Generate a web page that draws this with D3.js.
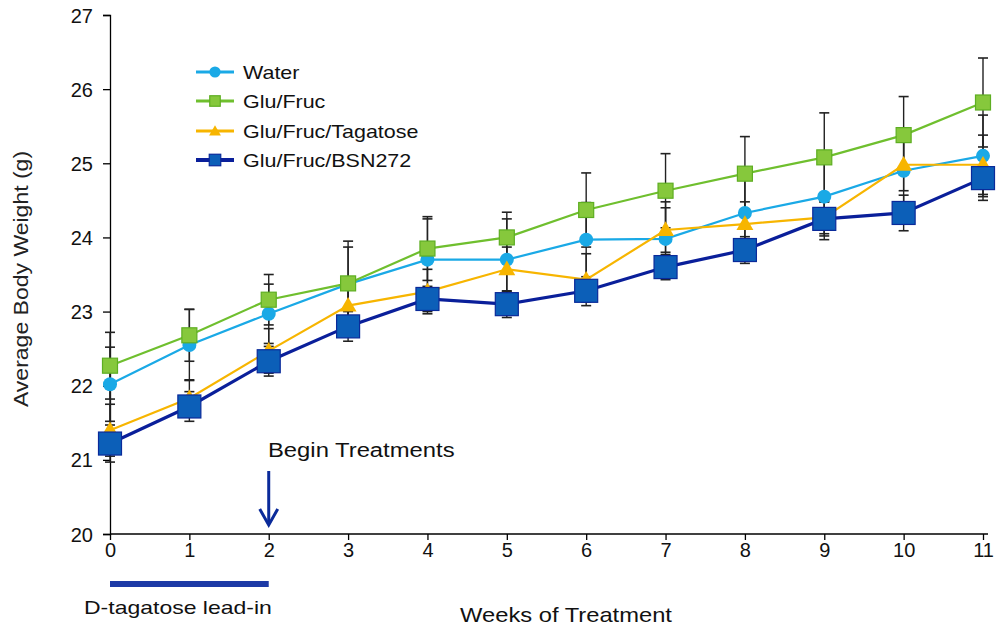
<!DOCTYPE html>
<html><head><meta charset="utf-8">
<script src="https://cdn.jsdelivr.net/npm/d3@7"></script>
<style>body{margin:0;background:#fff}svg{display:block}text{font-family:"Liberation Sans",Arial,sans-serif}</style>
</head><body><svg id="c" width="1000" height="628"></svg>
<script>
const weeks = [0,1,2,3,4,5,6,7,8,9,10,11];
const seriesNames = ["Water","Glu/Fruc","Glu/Fruc/Tagatose","Glu/Fruc/BSN272"];
const water    = [22.02,22.55,22.97,23.37,23.70,23.70,23.97,23.98,24.33,24.55,24.90,25.10];
const gluFruc  = [22.27,22.68,23.16,23.38,23.85,24.00,24.37,24.63,24.86,25.08,25.38,25.82];
const tagatose = [21.40,21.83,22.47,23.08,23.27,23.57,23.43,24.10,24.18,24.27,24.98,24.98];
const bsn272   = [21.22,21.72,22.33,22.80,23.17,23.10,23.28,23.60,23.83,24.25,24.33,24.80];
const waterErr    = [0.50,0.48,0.40,0.50,0.55,0.55,0.50,0.50,0.50,0.50,0.50,0.55];
const gluFrucErr  = [0.45,0.35,0.34,0.57,0.43,0.34,0.50,0.50,0.50,0.60,0.52,0.60];
const tagatoseErr = [0.35,0.25,0.30,0.35,0.30,0.30,0.35,0.30,0.30,0.30,0.35,0.40];
const bsn272Err   = [0.25,0.20,0.20,0.20,0.17,0.18,0.15,0.17,0.18,0.23,0.24,0.30];
const yTicks = [20,21,22,23,24,25,26,27];

const svg = d3.select("#c");
const x = d3.scaleLinear().domain([0,11]).range([110,983]);
const y = d3.scaleLinear().domain([20,27]).range([534,15]);

function stretch(sel, f){
  sel.each(function(){
    const w = this.getComputedTextLength();
    d3.select(this).attr("textLength", w*f).attr("lengthAdjust","spacingAndGlyphs");
  });
  return sel;
}

const series = [
  {name:seriesNames[0], v:water, e:waterErr, color:"#1aa9e6", fill:"#1aa9e6", stroke:"#1aa9e6", shape:"circle", size:7, lw:2.2},
  {name:seriesNames[1], v:gluFruc, e:gluFrucErr, color:"#6fbf2e", fill:"#86c83c", stroke:"#5eae22", shape:"square", size:15, lw:2.2},
  {name:seriesNames[2], v:tagatose, e:tagatoseErr, color:"#f7b500", fill:"#f7b500", stroke:"#f7b500", shape:"tri", size:15, lw:2.2},
  {name:seriesNames[3], v:bsn272, e:bsn272Err, color:"#0a1f9a", fill:"#0c5fb8", stroke:"#0a2a9a", shape:"square", size:23, lw:3.2}
];

// axes
const yAxis = d3.axisLeft(y).tickValues(yTicks).tickSize(7).tickFormat(d3.format("d"));
const gy = svg.append("g").attr("transform","translate(110,0)").call(yAxis);
gy.select(".domain").attr("stroke","#000").attr("stroke-width",1.3);
gy.selectAll(".tick line").attr("stroke","#000").attr("stroke-width",1.3);
gy.selectAll(".tick text").attr("font-size",20).attr("fill","#111").attr("x",-17).attr("dy","0.35em");

const xAxis = d3.axisBottom(x).tickValues(weeks).tickSize(6).tickFormat(d3.format("d"));
const gx = svg.append("g").attr("transform","translate(0,534)").call(xAxis);
gx.select(".domain").attr("stroke","#000").attr("stroke-width",1.3).attr("d","M110,0H988");
gx.selectAll(".tick line").attr("stroke","#000").attr("stroke-width",1.3);
gx.selectAll(".tick text").attr("font-size",20).attr("fill","#111").attr("y",9);

// error bars
series.forEach(s=>{
  const g = svg.append("g");
  weeks.forEach((w,i)=>{
    const x0 = x(w), yt = y(s.v[i]+s.e[i]), yb = y(s.v[i]-s.e[i]);
    g.append("line").attr("x1",x0).attr("x2",x0).attr("y1",yt).attr("y2",yb).attr("stroke","#222").attr("stroke-width",1.4);
    [yt,yb].forEach(yy=>g.append("line").attr("x1",x0-5).attr("x2",x0+5).attr("y1",yy).attr("y2",yy).attr("stroke","#222").attr("stroke-width",1.6));
  });
});

const line = d3.line().x((d,i)=>x(weeks[i])).y(d=>y(d));
function marker(g, s, cx, cy, scale){
  const sz = s.size*scale;
  if(s.shape==="circle") g.append("circle").attr("cx",cx).attr("cy",cy).attr("r",sz).attr("fill",s.fill);
  else if(s.shape==="square") g.append("rect").attr("x",cx-sz/2).attr("y",cy-sz/2).attr("width",sz).attr("height",sz).attr("fill",s.fill).attr("stroke",s.stroke).attr("stroke-width",1.2);
  else g.append("path").attr("d",d3.symbol().type(d3.symbolTriangle).size(sz*sz*0.55)()).attr("transform",`translate(${cx},${cy+1})`).attr("fill",s.fill);
}
series.forEach(s=>{
  svg.append("path").datum(s.v).attr("d",line).attr("fill","none").attr("stroke",s.color).attr("stroke-width",s.lw);
  const g = svg.append("g");
  s.v.forEach((v,i)=>marker(g,s,x(weeks[i]),y(v),1));
});

// legend
const leg = svg.append("g");
const legY = [72,101,131,160];
series.forEach((s,i)=>{
  leg.append("line").attr("x1",196).attr("x2",234).attr("y1",legY[i]).attr("y2",legY[i]).attr("stroke",s.color).attr("stroke-width",s.lw+0.8);
  marker(leg,s,215,legY[i], s.shape==="circle"?0.8:(i===3?0.5:0.7));
  stretch(leg.append("text").attr("x",243).attr("y",legY[i]).attr("dy","0.35em").attr("font-size",19).attr("fill","#111").text(s.name),1.13);
});

// axis titles
stretch(svg.append("text").attr("transform","translate(28,279) rotate(-90)").attr("text-anchor","middle").attr("font-size",20).attr("fill","#222").text("Average Body Weight (g)"),1.15);
stretch(svg.append("text").attr("x",566).attr("y",622).attr("text-anchor","middle").attr("font-size",21).attr("fill","#111").text("Weeks of Treatment"),1.13);

// annotations
stretch(svg.append("text").attr("x",268).attr("y",457).attr("font-size",20).attr("fill","#111").text("Begin Treatments"),1.19);
const ax = x(2);
svg.append("line").attr("x1",ax).attr("x2",ax).attr("y1",471).attr("y2",523).attr("stroke","#0a2a9a").attr("stroke-width",3);
svg.append("path").attr("d",`M${ax-9},509 L${ax},525 L${ax+9},509`).attr("fill","none").attr("stroke","#0a2a9a").attr("stroke-width",3);
svg.append("rect").attr("x",x(0)).attr("y",581).attr("width",x(2)-x(0)).attr("height",6).attr("fill","#1d3aa6");
stretch(svg.append("text").attr("x",84).attr("y",614).attr("font-size",19).attr("fill","#111").text("D-tagatose lead-in"),1.21);
</script></body></html>
